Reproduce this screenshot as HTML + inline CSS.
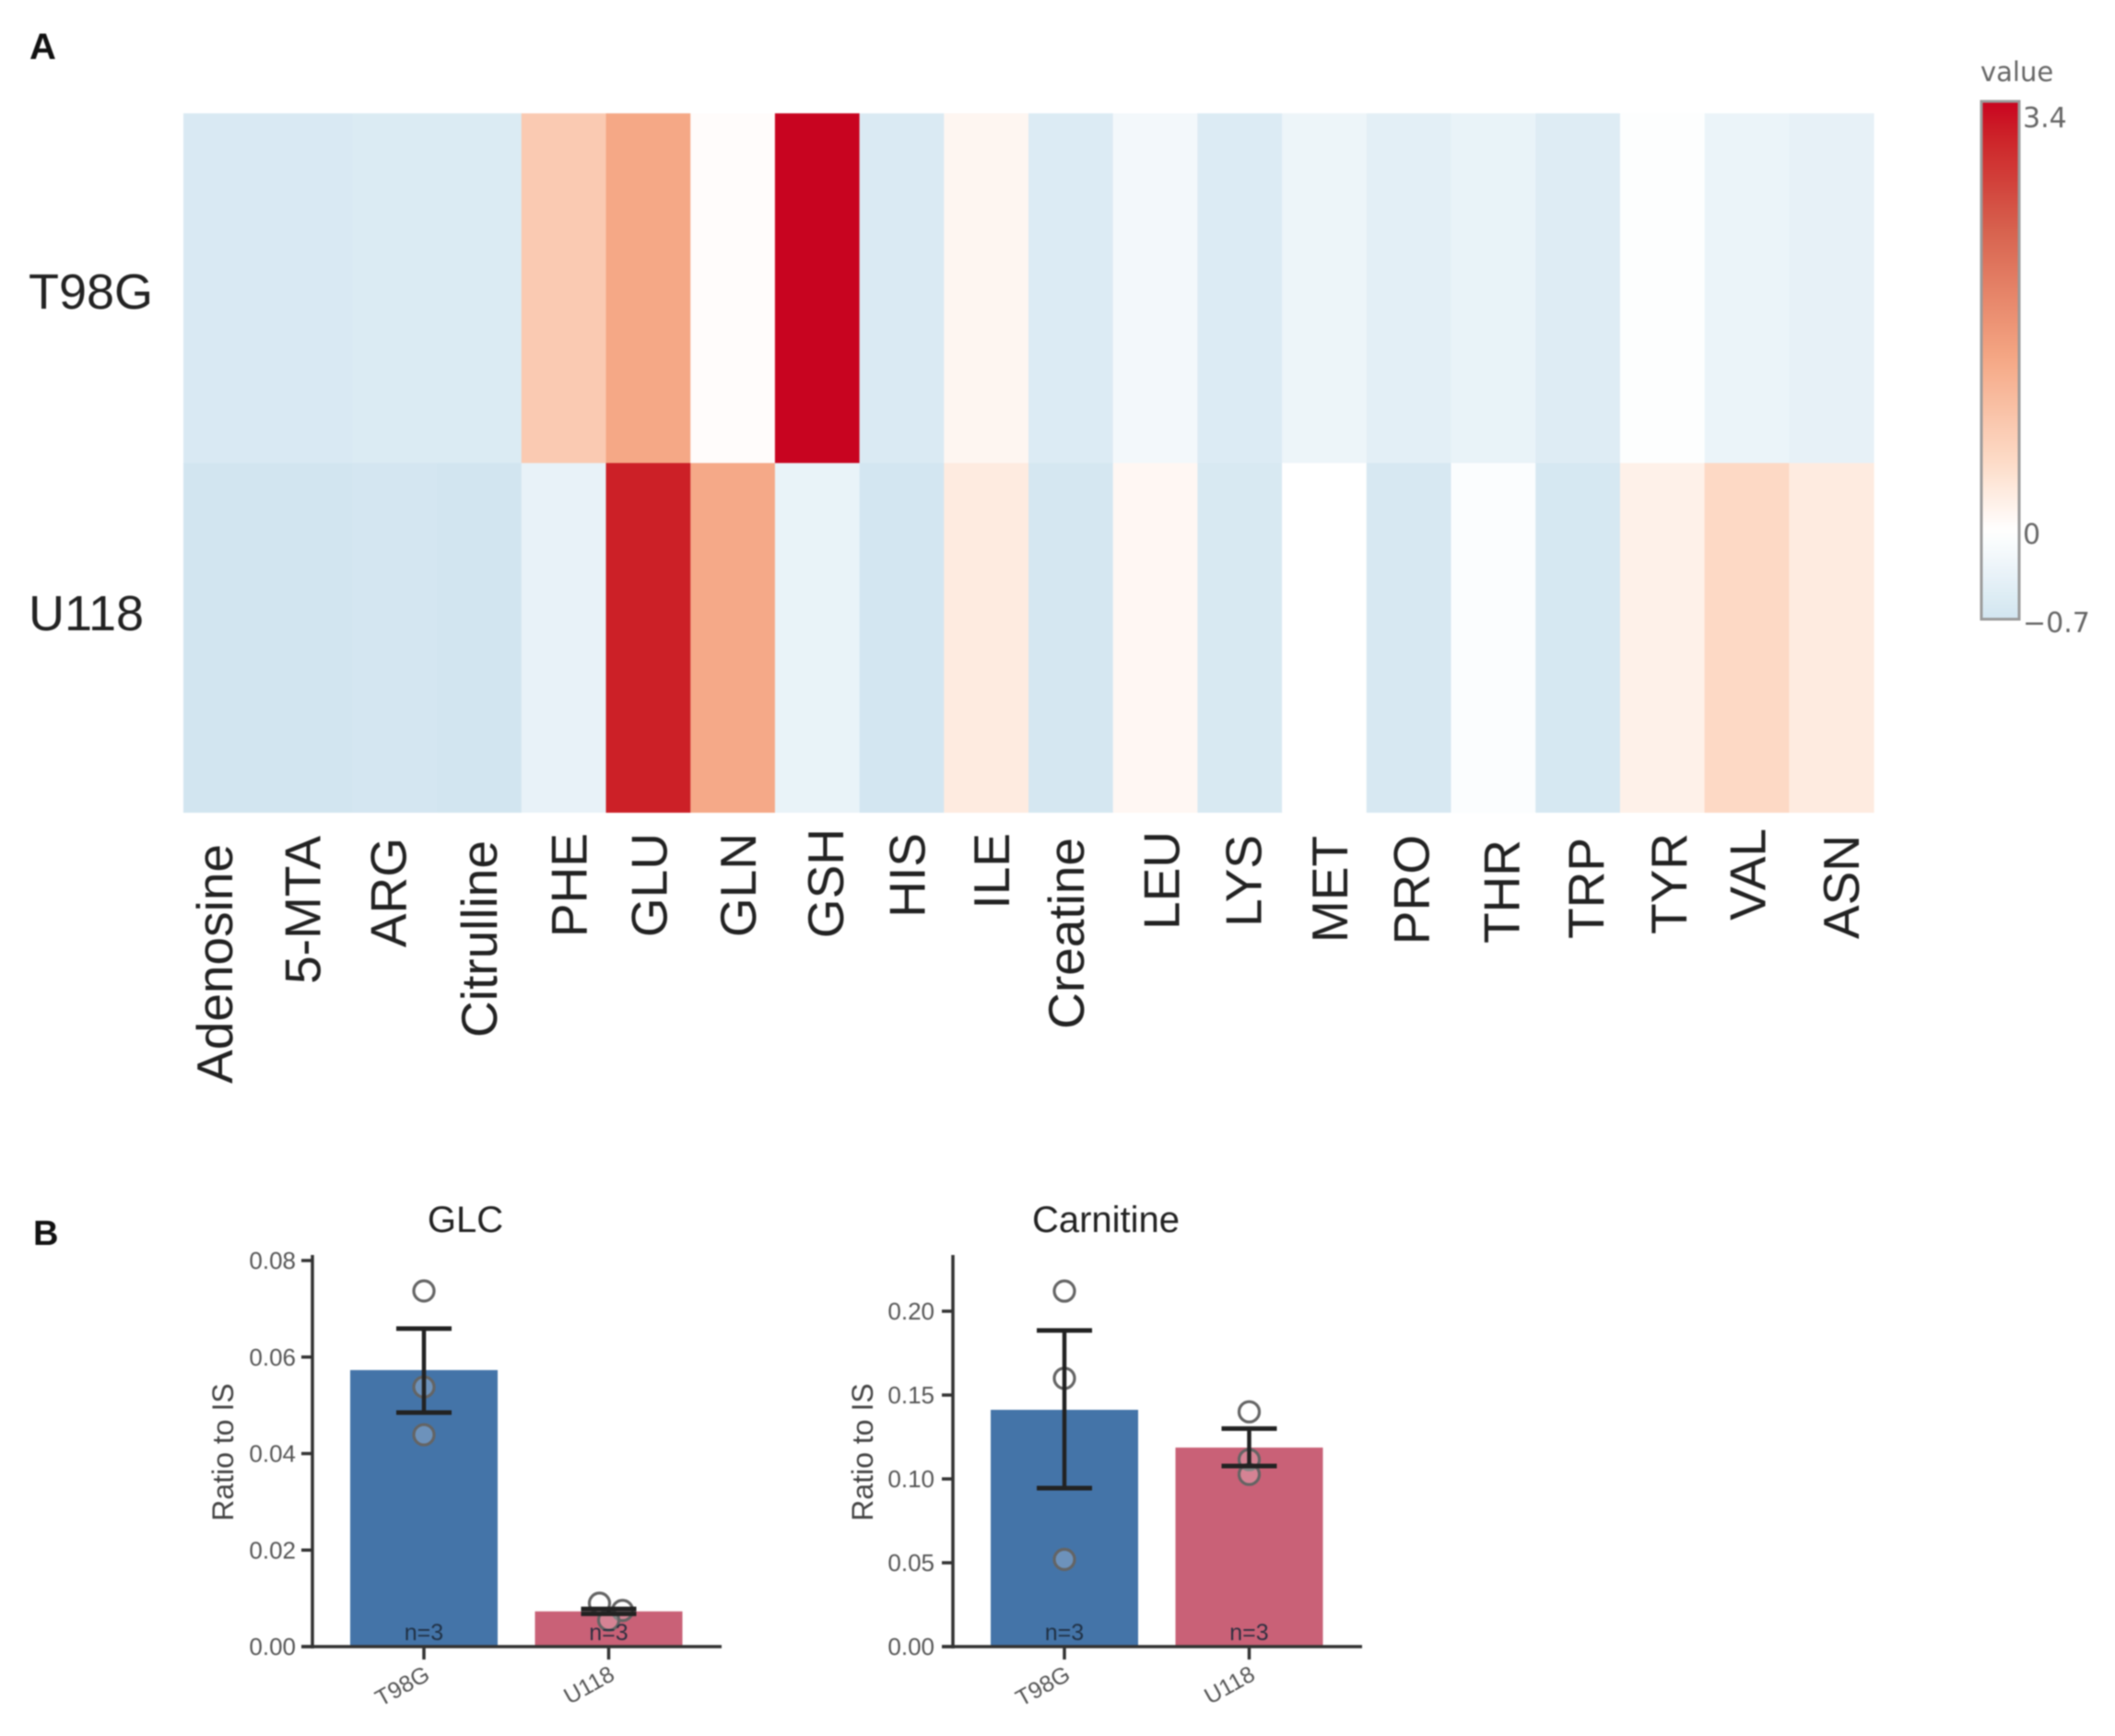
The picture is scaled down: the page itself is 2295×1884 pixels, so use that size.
<!DOCTYPE html>
<html lang="en">
<head>
<meta charset="utf-8">
<title>Metabolite heatmap and bar charts</title>
<style>
  html, body { margin: 0; padding: 0; background: #ffffff; }
  #figure { display: block; width: 2295px; height: 1884px; filter: blur(0.8px); font-family: "Liberation Sans", sans-serif; }
</style>
</head>
<body>
<svg id="figure" xmlns="http://www.w3.org/2000/svg" width="2295" height="1884" viewBox="0 0 2295 1884">
  <rect x="0" y="0" width="2295" height="1884" fill="#ffffff"/>
  <text x="32" y="64" font-size="40" font-weight="700" fill="#111">A</text>
  <text x="36" y="1351" font-size="38" font-weight="700" fill="#111">B</text>
  <g id="heatmap"></g>
  <g id="colorbar"></g>
  <g id="glc-chart"></g>
  <g id="carnitine-chart"></g>
</svg>
<script>
const metabolites = ["Adenosine","5-MTA","ARG","Citrulline","PHE","GLU","GLN","GSH","HIS","ILE","Creatine","LEU","LYS","MET","PRO","THR","TRP","TYR","VAL","ASN"];
const cellLines = ["T98G","U118"];
const t98gValues = [-0.58,-0.58,-0.55,-0.55,0.81,1.35,0.04,3.4,-0.57,0.14,-0.53,-0.18,-0.53,-0.27,-0.43,-0.33,-0.5,-0.03,-0.3,-0.37];
const u118Values = [-0.69,-0.69,-0.66,-0.69,-0.35,3.15,1.33,-0.33,-0.67,0.3,-0.64,0.12,-0.6,0,-0.61,-0.06,-0.62,0.22,0.58,0.3];
const colorTicks = [3.4,0,-0.7];
const colorLabels = ["3.4","0","\u22120.7"];
const colorDomain = [-0.7,3.4];

const barGroups = ["T98G","U118"];
const glcTicks = [0,0.02,0.04,0.06,0.08];
const glcMeans = [0.0573,0.0073];
const glcErrHigh = [0.0659,0.0078];
const glcErrLow = [0.0485,0.0068];
const glcT98GPoints = [0.0737,0.0538,0.0439];
const glcU118Points = [0.009,0.0075,0.0055];

const carnitineTicks = [0,0.05,0.1,0.15,0.2];
const carnitineMeans = [0.1412,0.1187];
const carnitineErrHigh = [0.1885,0.130];
const carnitineErrLow = [0.0945,0.1077];
const carnitineT98GPoints = [0.212,0.16,0.052];
const carnitineU118Points = [0.140,0.1115,0.1027];

const SVG_NS = "http://www.w3.org/2000/svg";
function mk(parent, tag, attrs, text) {
  const node = document.createElementNS(SVG_NS, tag);
  for (const k in attrs) node.setAttribute(k, attrs[k]);
  if (text !== undefined) node.textContent = text;
  parent.appendChild(node);
  return node;
}
function hexToRgb(h) { return [parseInt(h.slice(1,3),16), parseInt(h.slice(3,5),16), parseInt(h.slice(5,7),16)]; }
function colorScale(v) {
  const stops = [[-0.7,"#d1e5f0"],[0,"#ffffff"],[0.55,"#fddbc7"],[1.4,"#f4a582"],[2.4,"#d6604d"],[3.15,"#cc2027"],[3.4,"#c80420"]];
  if (v <= stops[0][0]) return stops[0][1];
  for (let i = 1; i < stops.length; i++) {
    if (v <= stops[i][0]) {
      const t = (v - stops[i-1][0]) / (stops[i][0] - stops[i-1][0]);
      const a = hexToRgb(stops[i-1][1]), b = hexToRgb(stops[i][1]);
      return "rgb(" + a.map((c,j) => Math.round(c + (b[j]-c)*t)).join(",") + ")";
    }
  }
  return stops[stops.length-1][1];
}

function drawHeatmap() {
  const g = document.getElementById("heatmap");
  const left = 199, right = 2033, top = 123, bottom = 882;
  const cw = (right-left)/metabolites.length;
  const ch = (bottom-top)/cellLines.length;
  const rows = [t98gValues,u118Values];
  const labelBaselines = [335,684];
  const labelNudge = [-13,-9,-8,-1,5,0,5,8,5,5,-6,6,3,5,2,8,8,6,0,10];
  const labelEnd = [917,908,910,913,905,905,905,900,905,905,910,903,907,908,907,912,910,905,900,907];
  rows.forEach((vals,r) => {
    const rowLabel = mk(g,"text",{x:31,y:labelBaselines[r],"font-size":54,fill:"#222"},cellLines[r]);
    
    
    vals.forEach((v,c) => {
      const cell = mk(g,"rect",{x:left+c*cw,y:top+r*ch,width:cw+0.6,height:ch+(r===0?0.6:0),fill:colorScale(v)});
      
      
    });
  });
  metabolites.forEach((m,c) => {
    const cx = left + (c+0.5)*cw + labelNudge[c] + 20;
    const yEnd = labelEnd[c] - 1;
    const t = mk(g,"text",{transform:"translate("+cx+","+yEnd+") rotate(-90)","text-anchor":"end","font-size":55,fill:"#222"},m);
    
    
  });
}

function drawColorbar() {
  const g = document.getElementById("colorbar");
  const x = 2150, w = 41, top = 110, bottom = 672;
  const y = v => top + (colorDomain[1]-v)/(colorDomain[1]-colorDomain[0])*(bottom-top);
  const defs = mk(g,"defs",{});
  const grad = mk(defs,"linearGradient",{id:"cbar-grad",x1:0,y1:1,x2:0,y2:0});
  for (let i = 0; i <= 40; i++) {
    const v = colorDomain[0] + (colorDomain[1]-colorDomain[0])*i/40;
    mk(grad,"stop",{offset:(i/40),"stop-color":colorScale(v)});
  }
  const title = mk(g,"text",{x:2149,y:88,"font-size":29,fill:"#666","font-family":"'DejaVu Sans',sans-serif"},"value");
  
  
  const bar = mk(g,"rect",{x:x,y:top,width:w,height:bottom-top,fill:"url(#cbar-grad)",stroke:"#9a9a9a","stroke-width":3});
  
  
  colorTicks.forEach((v,i) => {
    const t = mk(g,"text",{x:2195,y:Math.max(y(v)+14,138),"font-size":30,fill:"#666","font-family":"'DejaVu Sans',sans-serif"},colorLabels[i]);
    
    
  });
}

function drawBarChart(id, cfg) {
  const g = document.getElementById(id);
  const baseY = 1787;
  const yScale = v => baseY - (v - cfg.ticks[0])/(cfg.ticks[cfg.ticks.length-1]-cfg.ticks[0])*(baseY-cfg.topTickY);
  const xCenter = i => cfg.axisX + 121 + 200.5*i;
  const barW = 160;
  const barColors = ["#4474a8","#c96177"];

  const title = mk(g,"text",{x:cfg.titleX,y:1337,"text-anchor":"middle","font-size":40,fill:"#222"},cfg.title);
  
  

  barGroups.forEach((name,i) => {
    const bar = mk(g,"rect",{x:xCenter(i)-barW/2,y:yScale(cfg.means[i]),width:barW,height:baseY-yScale(cfg.means[i]),fill:barColors[i]});
    
    
  });

  barGroups.forEach((name,i) => {
    const jitter = cfg.jitter[i];
    cfg.points[i].forEach((v,k) => {
      const pt = mk(g,"circle",{cx:xCenter(i)+jitter[k],cy:yScale(v),r:11,fill:"rgba(255,255,255,0.22)",stroke:"#646464","stroke-width":3.2});
      
      
    });
    const cx = xCenter(i), hi = yScale(cfg.errHigh[i]), lo = yScale(cfg.errLow[i]);
    const stem = mk(g,"line",{x1:cx,x2:cx,y1:hi,y2:lo,stroke:"#222","stroke-width":4.5});
    
    
    const capHi = mk(g,"line",{x1:cx-30,x2:cx+30,y1:hi,y2:hi,stroke:"#222","stroke-width":5});
    
    
    const capLo = mk(g,"line",{x1:cx-30,x2:cx+30,y1:lo,y2:lo,stroke:"#222","stroke-width":5});
    
    
    const n = mk(g,"text",{x:cx,y:1780,"text-anchor":"middle","font-size":25,fill:"#1d2a3a","fill-opacity":0.9},"n="+cfg.points[i].length);
    
    
    const tick = mk(g,"line",{x1:cx,x2:cx,y1:baseY,y2:baseY+14,stroke:"#333","stroke-width":3.5});
    
    
    const lab = mk(g,"text",{transform:"translate("+(cx+8)+",1822) rotate(-29)","text-anchor":"end","font-size":25,fill:"#555"},name);
    
    
  });

  const yAxis = mk(g,"line",{x1:cfg.axisX,x2:cfg.axisX,y1:1362,y2:baseY+2,stroke:"#333","stroke-width":3.5});
  
  
  const xAxis = mk(g,"line",{x1:cfg.axisX-12,x2:cfg.axisX+444,y1:baseY,y2:baseY,stroke:"#333","stroke-width":3.5});
  
  

  cfg.ticks.forEach(v => {
    const ty = yScale(v);
    const tick = mk(g,"line",{x1:cfg.axisX-12,x2:cfg.axisX,y1:ty,y2:ty,stroke:"#333","stroke-width":3.5});
    
    
    const lab = mk(g,"text",{x:cfg.axisX-cfg.labelGap,y:ty+9,"text-anchor":"end","font-size":26,fill:"#555"},v.toFixed(2));
    
    
  });

  const yTitle = mk(g,"text",{transform:"translate("+(cfg.axisX-cfg.titleGap)+",1576) rotate(-90)","text-anchor":"middle","font-size":32,fill:"#444"},"Ratio to IS");
  
  
}

drawHeatmap();
drawColorbar();
drawBarChart("glc-chart",{
  title:"GLC", titleX:505, axisX:339, topTickY:1368, labelGap:18, titleGap:86,
  ticks:glcTicks, means:glcMeans, errHigh:glcErrHigh, errLow:glcErrLow,
  points:[glcT98GPoints,glcU118Points],
  jitter:[[0,0,0],[-10,15,0]]
});
drawBarChart("carnitine-chart",{
  title:"Carnitine", titleX:1200, axisX:1034, topTickY:1423, labelGap:20, titleGap:87,
  ticks:carnitineTicks, means:carnitineMeans, errHigh:carnitineErrHigh, errLow:carnitineErrLow,
  points:[carnitineT98GPoints,carnitineU118Points],
  jitter:[[0,0,0],[0,0,0]]
});
</script>
</body>
</html>
